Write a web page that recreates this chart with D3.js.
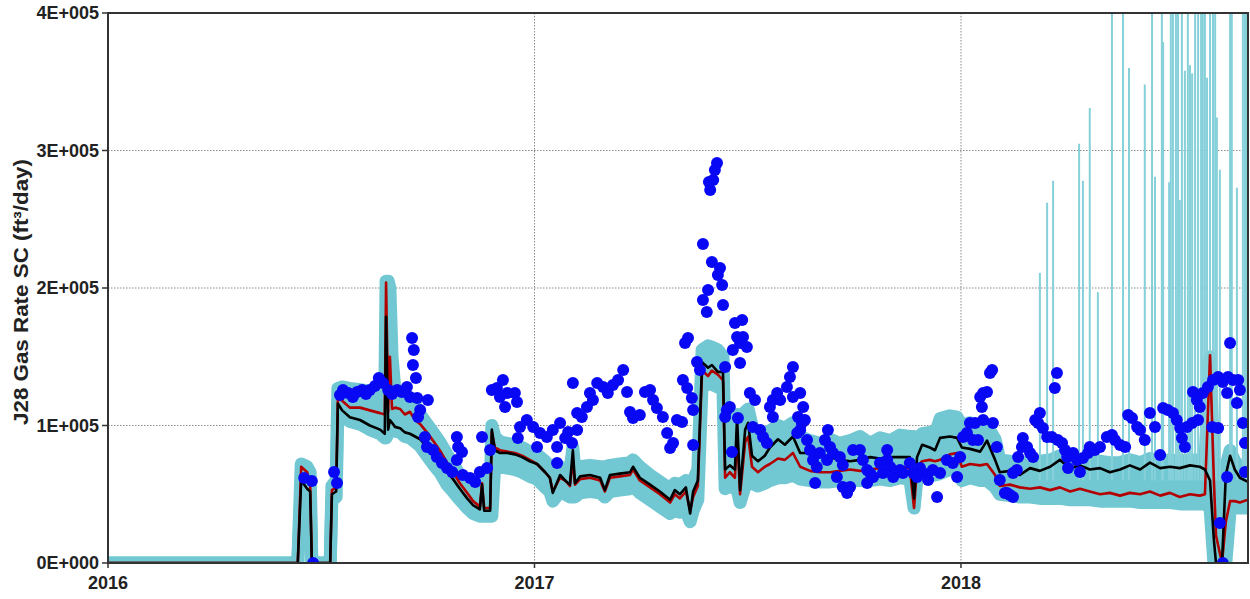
<!DOCTYPE html>
<html>
<head>
<meta charset="utf-8">
<script src="https://cdn.jsdelivr.net/npm/d3@7"></script>
<style>
  html, body { margin: 0; padding: 0; background: #fff; }
  svg { display: block; }
  text { font-family: "Liberation Sans", Arial, sans-serif; font-weight: bold; fill: #222; }
</style>
</head>
<body>
<svg id="chart" width="1250" height="599"></svg>
<script>
// Simulation time grid (decimal years)
const simYears = [
  2016.000, 2016.445, 2016.453, 2016.467, 2016.474, 2016.478, 2016.521, 2016.525, 2016.535, 2016.539,
  2016.549, 2016.567, 2016.591, 2016.614, 2016.638, 2016.649, 2016.652, 2016.657, 2016.661, 2016.666,
  2016.673, 2016.685, 2016.696, 2016.708, 2016.720, 2016.732, 2016.748, 2016.762, 2016.778, 2016.795,
  2016.809, 2016.825, 2016.842, 2016.856, 2016.872, 2016.877, 2016.882, 2016.896, 2016.900, 2016.907,
  2016.919, 2016.936, 2016.954, 2016.971, 2016.989, 2017.006, 2017.025, 2017.036, 2017.043, 2017.060,
  2017.072, 2017.083, 2017.090, 2017.095, 2017.107, 2017.130, 2017.154, 2017.165, 2017.177, 2017.200,
  2017.224, 2017.231, 2017.247, 2017.271, 2017.294, 2017.318, 2017.329, 2017.341, 2017.355, 2017.365,
  2017.372, 2017.383, 2017.393, 2017.407, 2017.416, 2017.430, 2017.442, 2017.447, 2017.458, 2017.470,
  2017.475, 2017.482, 2017.494, 2017.501, 2017.510, 2017.524, 2017.540, 2017.552, 2017.571, 2017.587,
  2017.606, 2017.623, 2017.646, 2017.669, 2017.693, 2017.716, 2017.740, 2017.763, 2017.787, 2017.810,
  2017.834, 2017.857, 2017.880, 2017.890, 2017.897, 2017.909, 2017.927, 2017.939, 2017.951, 2017.974,
  2017.991, 2018.002, 2018.021, 2018.045, 2018.061, 2018.080, 2018.091, 2018.115, 2018.138, 2018.162,
  2018.185, 2018.209, 2018.232, 2018.256, 2018.279, 2018.302, 2018.326, 2018.349, 2018.373, 2018.396,
  2018.420, 2018.443, 2018.467, 2018.490, 2018.513, 2018.537, 2018.560, 2018.572, 2018.584, 2018.593,
  2018.598, 2018.612, 2018.621, 2018.631, 2018.642, 2018.654, 2018.673
];

// Best-match case, gas rate (ft3/day)
const bestCase = [
  0, 0, 60000, 54000, 52000, 0, 0, 50000, 52000, 116000,
  111000, 106000, 104000, 100000, 97000, 94000, 179000, 97000, 104000, 102000,
  99000, 98000, 95000, 94000, 92000, 90000, 84000, 79000, 74000, 66000,
  61000, 54000, 47000, 42000, 39000, 57000, 38000, 38000, 97000, 82000,
  80000, 80000, 79000, 77000, 74000, 72000, 66000, 62000, 51000, 64000,
  60000, 57000, 82000, 58000, 63000, 64000, 62000, 53000, 64000, 65000,
  66000, 70000, 62000, 57000, 52000, 46000, 53000, 50000, 55000, 36000,
  52000, 60000, 146000, 142000, 144000, 139000, 139000, 68000, 71000, 68000,
  106000, 53000, 97000, 102000, 78000, 74000, 78000, 84000, 90000, 86000,
  92000, 80000, 80000, 78000, 77000, 75000, 74000, 75000, 77000, 76000,
  77000, 77000, 77000, 47000, 77000, 86000, 84000, 82000, 91000, 92000,
  91000, 84000, 83000, 81000, 89000, 75000, 66000, 67000, 64000, 69000,
  67000, 70000, 75000, 69000, 71000, 68000, 69000, 66000, 68000, 71000,
  68000, 73000, 69000, 70000, 69000, 71000, 70000, 68000, 60000, 17000,
  0, 0, 64000, 78000, 68000, 62000, 59000
];

// Base case, gas rate (ft3/day)
const baseCase = [
  0, 0, 70000, 66000, 58000, 0, 0, 53000, 55000, 120000,
  118000, 113000, 113000, 111000, 109000, 108000, 204000, 110000, 150000, 112000,
  113000, 112000, 108000, 110000, 104000, 101000, 95000, 89000, 82000, 73000,
  66000, 58000, 51000, 45000, 41000, 58000, 40000, 40000, 95000, 84000,
  82000, 81000, 80000, 78000, 75000, 72000, 66000, 62000, 52000, 62000,
  60000, 56000, 75000, 57000, 61000, 62000, 60000, 52000, 62000, 63000,
  64000, 68000, 60000, 55000, 50000, 44000, 50000, 47000, 52000, 38000,
  48000, 56000, 140000, 136000, 140000, 137000, 133000, 62000, 66000, 62000,
  95000, 50000, 88000, 92000, 70000, 66000, 70000, 72000, 76000, 75000,
  80000, 70000, 67000, 66000, 66000, 67000, 68000, 67000, 68000, 69000,
  68000, 70000, 69000, 40000, 70000, 74000, 75000, 74000, 75000, 79000,
  80000, 70000, 72000, 71000, 72000, 64000, 56000, 57000, 55000, 54000,
  55000, 53000, 55000, 52000, 54000, 52000, 50000, 51000, 49000, 51000,
  50000, 52000, 49000, 51000, 48000, 50000, 49000, 50000, 151000, 60000,
  20000, 0, 30000, 45000, 45000, 44000, 46000
];

// Ensemble envelope, lower and upper members (ft3/day)
const ensembleLow = [
  0, 0, 55000, 50000, 45000, 0, 0, 46000, 48000, 112000,
  107000, 103000, 101000, 97000, 94000, 91000, 91000, 94000, 100000, 99000,
  96000, 95000, 92000, 91000, 88000, 85000, 78000, 72000, 66000, 57000,
  52000, 46000, 40000, 36000, 34000, 34000, 34000, 34000, 34000, 72000,
  70000, 69000, 68000, 66000, 63000, 61000, 55000, 52000, 45000, 52000,
  50000, 48000, 48000, 48000, 51000, 52000, 51000, 48000, 52000, 53000,
  54000, 56000, 51000, 46000, 41000, 36000, 38000, 37000, 38000, 30000,
  38000, 46000, 130000, 130000, 130000, 128000, 126000, 54000, 56000, 54000,
  54000, 44000, 56000, 58000, 58000, 56000, 58000, 60000, 62000, 62000,
  64000, 61000, 60000, 59000, 59000, 60000, 60000, 60000, 60000, 61000,
  60000, 62000, 61000, 40000, 62000, 64000, 65000, 64000, 65000, 68000,
  67000, 60000, 62000, 60000, 60000, 55000, 50000, 49000, 48000, 48000,
  47000, 47000, 47000, 46000, 46000, 46000, 45000, 45000, 45000, 45000,
  44000, 44000, 44000, 44000, 43000, 43000, 43000, 43000, 40000, 0,
  0, 0, 0, 38000, 40000, 40000, 40000
];
const ensembleHigh = [
  0, 0, 72000, 70000, 66000, 0, 0, 56000, 60000, 127000,
  128000, 127000, 126000, 125000, 124000, 123000, 205000, 205000, 200000, 150000,
  125000, 123000, 121000, 120000, 115000, 108000, 101000, 95000, 88000, 79000,
  72000, 64000, 57000, 50000, 46000, 60000, 46000, 46000, 100000, 92000,
  88000, 87000, 86000, 84000, 81000, 79000, 74000, 70000, 69000, 70000,
  68000, 66000, 84000, 66000, 70000, 71000, 70000, 70000, 71000, 72000,
  73000, 75000, 70000, 64000, 59000, 54000, 58000, 57000, 60000, 58000,
  60000, 68000, 155000, 158000, 157000, 155000, 150000, 80000, 84000, 82000,
  108000, 100000, 110000, 112000, 100000, 92000, 95000, 96000, 100000, 98000,
  102000, 92000, 89000, 87000, 90000, 87000, 89000, 92000, 87000, 91000,
  89000, 93000, 92000, 92000, 90000, 94000, 95000, 93000, 105000, 107000,
  106000, 100000, 102000, 98000, 100000, 90000, 75000, 74000, 72000, 74000,
  74000, 75000, 78000, 74000, 75000, 74000, 74000, 73000, 73000, 75000,
  73000, 76000, 74000, 75000, 74000, 75000, 75000, 74000, 150000, 70000,
  60000, 40000, 70000, 82000, 74000, 70000, 68000
];

// Ensemble members that blow up late in the run: time and peak rate
const spikeYears = [
  2018.185, 2018.202, 2018.216, 2018.277, 2018.286, 2018.302, 2018.321, 2018.354, 2018.380, 2018.394,
  2018.431, 2018.448, 2018.455, 2018.471, 2018.474, 2018.488, 2018.492, 2018.497, 2018.504, 2018.509,
  2018.513, 2018.518, 2018.525, 2018.532, 2018.537, 2018.542, 2018.549, 2018.556, 2018.563, 2018.567,
  2018.572, 2018.577, 2018.584, 2018.591, 2018.596, 2018.600, 2018.607, 2018.631, 2018.635, 2018.647,
  2018.661, 2018.666, 2018.670
];
const spikePeaks = [
  211000, 262000, 278000, 305000, 278000, 331000, 197000, 450000, 450000, 360000,
  348000, 450000, 281000, 450000, 379000, 277000, 450000, 450000, 450000, 450000,
  264000, 450000, 358000, 450000, 362000, 356000, 450000, 450000, 450000, 450000,
  450000, 353000, 450000, 450000, 450000, 324000, 286000, 450000, 450000, 273000,
  450000, 450000, 450000
];

// Observed gas rate (ft3/day)
const obsYears = [
  2016.460, 2016.478, 2016.481, 2016.530, 2016.537, 2016.544, 2016.551, 2016.563, 2016.574, 2016.584,
  2016.596, 2016.605, 2016.614, 2016.626, 2016.635, 2016.645, 2016.657, 2016.666, 2016.678, 2016.689,
  2016.701, 2016.708, 2016.725, 2016.713, 2016.717, 2016.715, 2016.722, 2016.750, 2016.732, 2016.727,
  2016.743, 2016.748, 2016.762, 2016.771, 2016.783, 2016.795, 2016.807, 2016.818, 2016.821, 2016.830,
  2016.818, 2016.832, 2016.849, 2016.861, 2016.872, 2016.889, 2016.877, 2016.896, 2016.900, 2016.912,
  2016.926, 2016.919, 2016.936, 2016.954, 2016.959, 2016.931, 2016.966, 2016.982, 2016.961, 2016.997,
  2017.013, 2017.006, 2017.029, 2017.043, 2017.060, 2017.053, 2017.053, 2017.072, 2017.088, 2017.079,
  2017.090, 2017.100, 2017.100, 2017.111, 2017.123, 2017.137, 2017.130, 2017.147, 2017.161, 2017.172,
  2017.184, 2017.196, 2017.208, 2017.217, 2017.224, 2017.231, 2017.247, 2017.259, 2017.271, 2017.278,
  2017.287, 2017.301, 2017.311, 2017.325, 2017.318, 2017.334, 2017.346, 2017.353, 2017.360, 2017.348,
  2017.358, 2017.369, 2017.372, 2017.372, 2017.381, 2017.388, 2017.395, 2017.395, 2017.404, 2017.407,
  2017.412, 2017.409, 2017.419, 2017.423, 2017.428, 2017.416, 2017.435, 2017.430, 2017.440, 2017.442,
  2017.447, 2017.451, 2017.458, 2017.447, 2017.477, 2017.463, 2017.470, 2017.487, 2017.475, 2017.489,
  2017.465, 2017.482, 2017.498, 2017.482, 2017.505, 2017.517, 2017.512, 2017.529, 2017.536, 2017.545,
  2017.559, 2017.569, 2017.576, 2017.592, 2017.599, 2017.606, 2017.623, 2017.630, 2017.618, 2017.623,
  2017.639, 2017.552, 2017.559, 2017.606, 2017.627, 2017.616, 2017.634, 2017.646, 2017.653, 2017.662,
  2017.658, 2017.688, 2017.681, 2017.693, 2017.700, 2017.669, 2017.686, 2017.716, 2017.723, 2017.709,
  2017.723, 2017.740, 2017.733, 2017.747, 2017.763, 2017.770, 2017.780, 2017.787, 2017.780, 2017.794,
  2017.810, 2017.827, 2017.817, 2017.827, 2017.834, 2017.841, 2017.857, 2017.864, 2017.880, 2017.888,
  2017.897, 2017.904, 2017.911, 2017.923, 2017.944, 2017.934, 2017.951, 2017.967, 2017.981, 2017.991,
  2017.998, 2018.005, 2018.014, 2018.021, 2018.033, 2018.028, 2018.040, 2018.045, 2018.052, 2018.061,
  2018.049, 2018.052, 2018.068, 2018.073, 2018.075, 2018.084, 2018.091, 2018.108, 2018.122, 2018.103,
  2018.115, 2018.122, 2018.131, 2018.134, 2018.143, 2018.145, 2018.155, 2018.162, 2018.169, 2018.174,
  2018.185, 2018.181, 2018.192, 2018.202, 2018.213, 2018.225, 2018.220, 2018.227, 2018.237, 2018.244,
  2018.249, 2018.251, 2018.263, 2018.272, 2018.279, 2018.286, 2018.298, 2018.302, 2018.314, 2018.326,
  2018.342, 2018.354, 2018.361, 2018.373, 2018.385, 2018.392, 2018.401, 2018.413, 2018.420, 2018.431,
  2018.443, 2018.455, 2018.467, 2018.474, 2018.485, 2018.497, 2018.506, 2018.514, 2018.518, 2018.525,
  2018.530, 2018.542, 2018.556, 2018.544, 2018.553, 2018.560, 2018.567, 2018.579, 2018.591, 2018.603,
  2018.614, 2018.626, 2018.638, 2018.650, 2018.631, 2018.624, 2018.647, 2018.654, 2018.589, 2018.603,
  2018.624, 2018.607, 2018.614, 2018.661, 2018.666, 2018.666
];
const obsRates = [
  61800, 59600, 0, 66200, 58200, 122200, 125800, 123600, 120700, 124400,
  125800, 122900, 125800, 128700, 134500, 130900, 125800, 122900, 125800, 124400,
  128000, 120700, 120000, 163600, 154900, 144000, 134500, 118500, 111300, 106200,
  91600, 84400, 82200, 77100, 72700, 69100, 66200, 91600, 84400, 80700,
  74900, 64000, 61800, 58900, 66200, 69100, 91600, 82200, 125800, 127300,
  133100, 120700, 123600, 123600, 117100, 113500, 98900, 104000, 90900, 98900,
  94500, 84400, 91600, 96700, 101800, 84400, 72700, 90900, 87300, 95300,
  130900, 96700, 109100, 106200, 113500, 118500, 123600, 130900, 128000, 123600,
  129500, 133100, 140400, 124400, 109800, 105500, 107600, 124400, 125800, 118500,
  112700, 106200, 94500, 87300, 83600, 104000, 102500, 160000, 163600, 133100,
  127300, 120000, 111300, 85800, 146200, 140400, 232000, 191300, 182500, 198500,
  271300, 277100, 278500, 285800, 290900, 218900, 214500, 209500, 202200, 187600,
  142500, 111300, 113500, 106200, 105500, 80700, 174500, 176700, 164400, 164400,
  154900, 160000, 157100, 145500, 123600, 118500, 98900, 96700, 91600, 87300,
  118500, 123600, 118500, 128000, 135300, 142500, 123600, 113500, 106200, 96700,
  89500, 113500, 106200, 120700, 101800, 94500, 104000, 82200, 74900, 69800,
  58200, 96700, 89500, 84400, 80000, 80000, 74900, 77100, 71300, 62500,
  55300, 55300, 50900, 82200, 82200, 74900, 67600, 65500, 58200, 62500,
  72700, 82200, 65500, 74900, 69800, 62500, 67600, 65500, 72700, 65500,
  62500, 69100, 65500, 60400, 48000, 67600, 65500, 74900, 72700, 62500,
  77100, 91600, 94500, 101800, 101800, 89500, 89500, 120700, 123600, 124400,
  113500, 104000, 138200, 140400, 101800, 84400, 60400, 50900, 48000, 50900,
  49500, 65500, 67600, 77100, 84400, 90900, 84400, 80000, 77100, 104000,
  109100, 101800, 98200, 91600, 91600, 138200, 127300, 89500, 87300, 82200,
  77100, 69100, 80000, 74900, 66200, 76400, 80000, 84400, 82200, 84400,
  91600, 93100, 89500, 85800, 84400, 107600, 105500, 98900, 96700, 89500,
  109100, 98900, 78500, 112700, 111300, 109100, 104000, 98200, 90900, 84400,
  98900, 101800, 104000, 124400, 118500, 113500, 123600, 128000, 133100, 135300,
  131600, 135300, 133100, 133100, 160000, 123600, 116400, 125800, 98900, 98200,
  62500, 29100, 0, 101800, 87300, 66200
];

// Axis ticks
const xTickYears = [2016, 2017, 2018];
const xTickLabels = ["2016", "2017", "2018"];
const yTickValues = [0, 100000, 200000, 300000, 400000];
const yTickLabels = ["0E+000", "1E+005", "2E+005", "3E+005", "4E+005"];

const width = 1250, height = 599;
const margin = { left: 108, right: 2, top: 13, bottom: 36 };
const plotW = width - margin.left - margin.right;
const plotH = height - margin.top - margin.bottom;

const svg = d3.select("#chart");

const x = d3.scaleLinear().domain([2016, 2018.673]).range([margin.left, margin.left + plotW]);
const y = d3.scaleLinear().domain([0, 400000]).range([margin.top + plotH, margin.top]);

// Clip everything drawn inside the frame
svg.append("defs").append("clipPath").attr("id", "plot-clip")
  .append("rect")
  .attr("x", margin.left).attr("y", margin.top)
  .attr("width", plotW).attr("height", plotH);

// Dotted grid
const grid = svg.append("g").attr("class", "grid");
grid.selectAll("line.hgrid").data(yTickValues.slice(1, -1)).join("line")
  .attr("class", "hgrid")
  .attr("x1", margin.left).attr("x2", margin.left + plotW)
  .attr("y1", d => y(d)).attr("y2", d => y(d))
  .attr("stroke", "#8a8a8a").attr("stroke-width", 1).attr("stroke-dasharray", "1.5,1.5");
grid.selectAll("line.vgrid").data(xTickYears.slice(1)).join("line")
  .attr("class", "vgrid")
  .attr("x1", d => x(d)).attr("x2", d => x(d))
  .attr("y1", margin.top).attr("y2", margin.top + plotH)
  .attr("stroke", "#8a8a8a").attr("stroke-width", 1).attr("stroke-dasharray", "1.5,1.5");

const plot = svg.append("g").attr("clip-path", "url(#plot-clip)");

const idx = d3.range(simYears.length);
const cyan = "#72c8d2";

// Ensemble band
plot.append("path")
  .datum(idx)
  .attr("fill", cyan)
  .attr("d", d3.area()
    .x(i => x(simYears[i]))
    .y0(i => y(ensembleLow[i]))
    .y1(i => y(ensembleHigh[i])));

[ensembleLow, ensembleHigh].forEach(series => {
  plot.append("path")
    .datum(idx)
    .attr("fill", "none")
    .attr("stroke", cyan)
    .attr("stroke-width", 13)
    .attr("stroke-linejoin", "round")
    .attr("stroke-linecap", "round")
    .attr("d", d3.line().x(i => x(simYears[i])).y(i => y(series[i])));
});

// Late ensemble spikes
plot.selectAll("line.spike").data(d3.range(spikeYears.length)).join("line")
  .attr("class", "spike")
  .attr("x1", i => x(spikeYears[i])).attr("x2", i => x(spikeYears[i]))
  .attr("y1", y(60000)).attr("y2", i => y(spikePeaks[i]))
  .attr("stroke", "#86d0da").attr("stroke-width", 2);

// Base case and best-match lines
plot.append("path")
  .datum(idx)
  .attr("fill", "none")
  .attr("stroke", "#b30000")
  .attr("stroke-width", 2.6)
  .attr("stroke-linejoin", "round")
  .attr("d", d3.line().x(i => x(simYears[i])).y(i => y(baseCase[i])));

plot.append("path")
  .datum(idx)
  .attr("fill", "none")
  .attr("stroke", "#000")
  .attr("stroke-width", 2.6)
  .attr("stroke-linejoin", "round")
  .attr("d", d3.line().x(i => x(simYears[i])).y(i => y(bestCase[i])));

// Observed points
plot.selectAll("circle.obs").data(d3.range(obsYears.length)).join("circle")
  .attr("class", "obs")
  .attr("cx", i => x(obsYears[i]))
  .attr("cy", i => y(obsRates[i]))
  .attr("r", 6)
  .attr("fill", "#0808f4");

// Frame
svg.append("rect")
  .attr("x", margin.left).attr("y", margin.top)
  .attr("width", plotW).attr("height", plotH)
  .attr("fill", "none").attr("stroke", "#333").attr("stroke-width", 2);

// Y axis ticks and labels
const yAxis = svg.append("g");
yAxis.selectAll("line").data(yTickValues).join("line")
  .attr("x1", margin.left - 6).attr("x2", margin.left)
  .attr("y1", d => y(d)).attr("y2", d => y(d))
  .attr("stroke", "#333").attr("stroke-width", 1.5);
yAxis.selectAll("text").data(yTickValues).join("text")
  .attr("x", margin.left - 9)
  .attr("y", d => y(d))
  .attr("dy", "0.36em")
  .attr("text-anchor", "end")
  .attr("font-size", 18)
  .text((d, i) => yTickLabels[i]);

// X axis ticks and labels
const xAxis = svg.append("g");
xAxis.selectAll("line").data(xTickYears).join("line")
  .attr("x1", d => x(d)).attr("x2", d => x(d))
  .attr("y1", margin.top + plotH).attr("y2", margin.top + plotH + 5)
  .attr("stroke", "#333").attr("stroke-width", 1.5);
xAxis.selectAll("text").data(xTickYears).join("text")
  .attr("x", d => x(d))
  .attr("y", margin.top + plotH + 26)
  .attr("text-anchor", "middle")
  .attr("font-size", 18)
  .text((d, i) => xTickLabels[i]);

// Y axis title
svg.append("text")
  .attr("transform", `translate(28, ${margin.top + plotH / 2 + 4}) rotate(-90)`)
  .attr("text-anchor", "middle")
  .attr("font-size", 20)
  .attr("textLength", 266)
  .attr("lengthAdjust", "spacingAndGlyphs")
  .text("J28 Gas Rate SC (ft³/day)");
</script>
</body>
</html>
